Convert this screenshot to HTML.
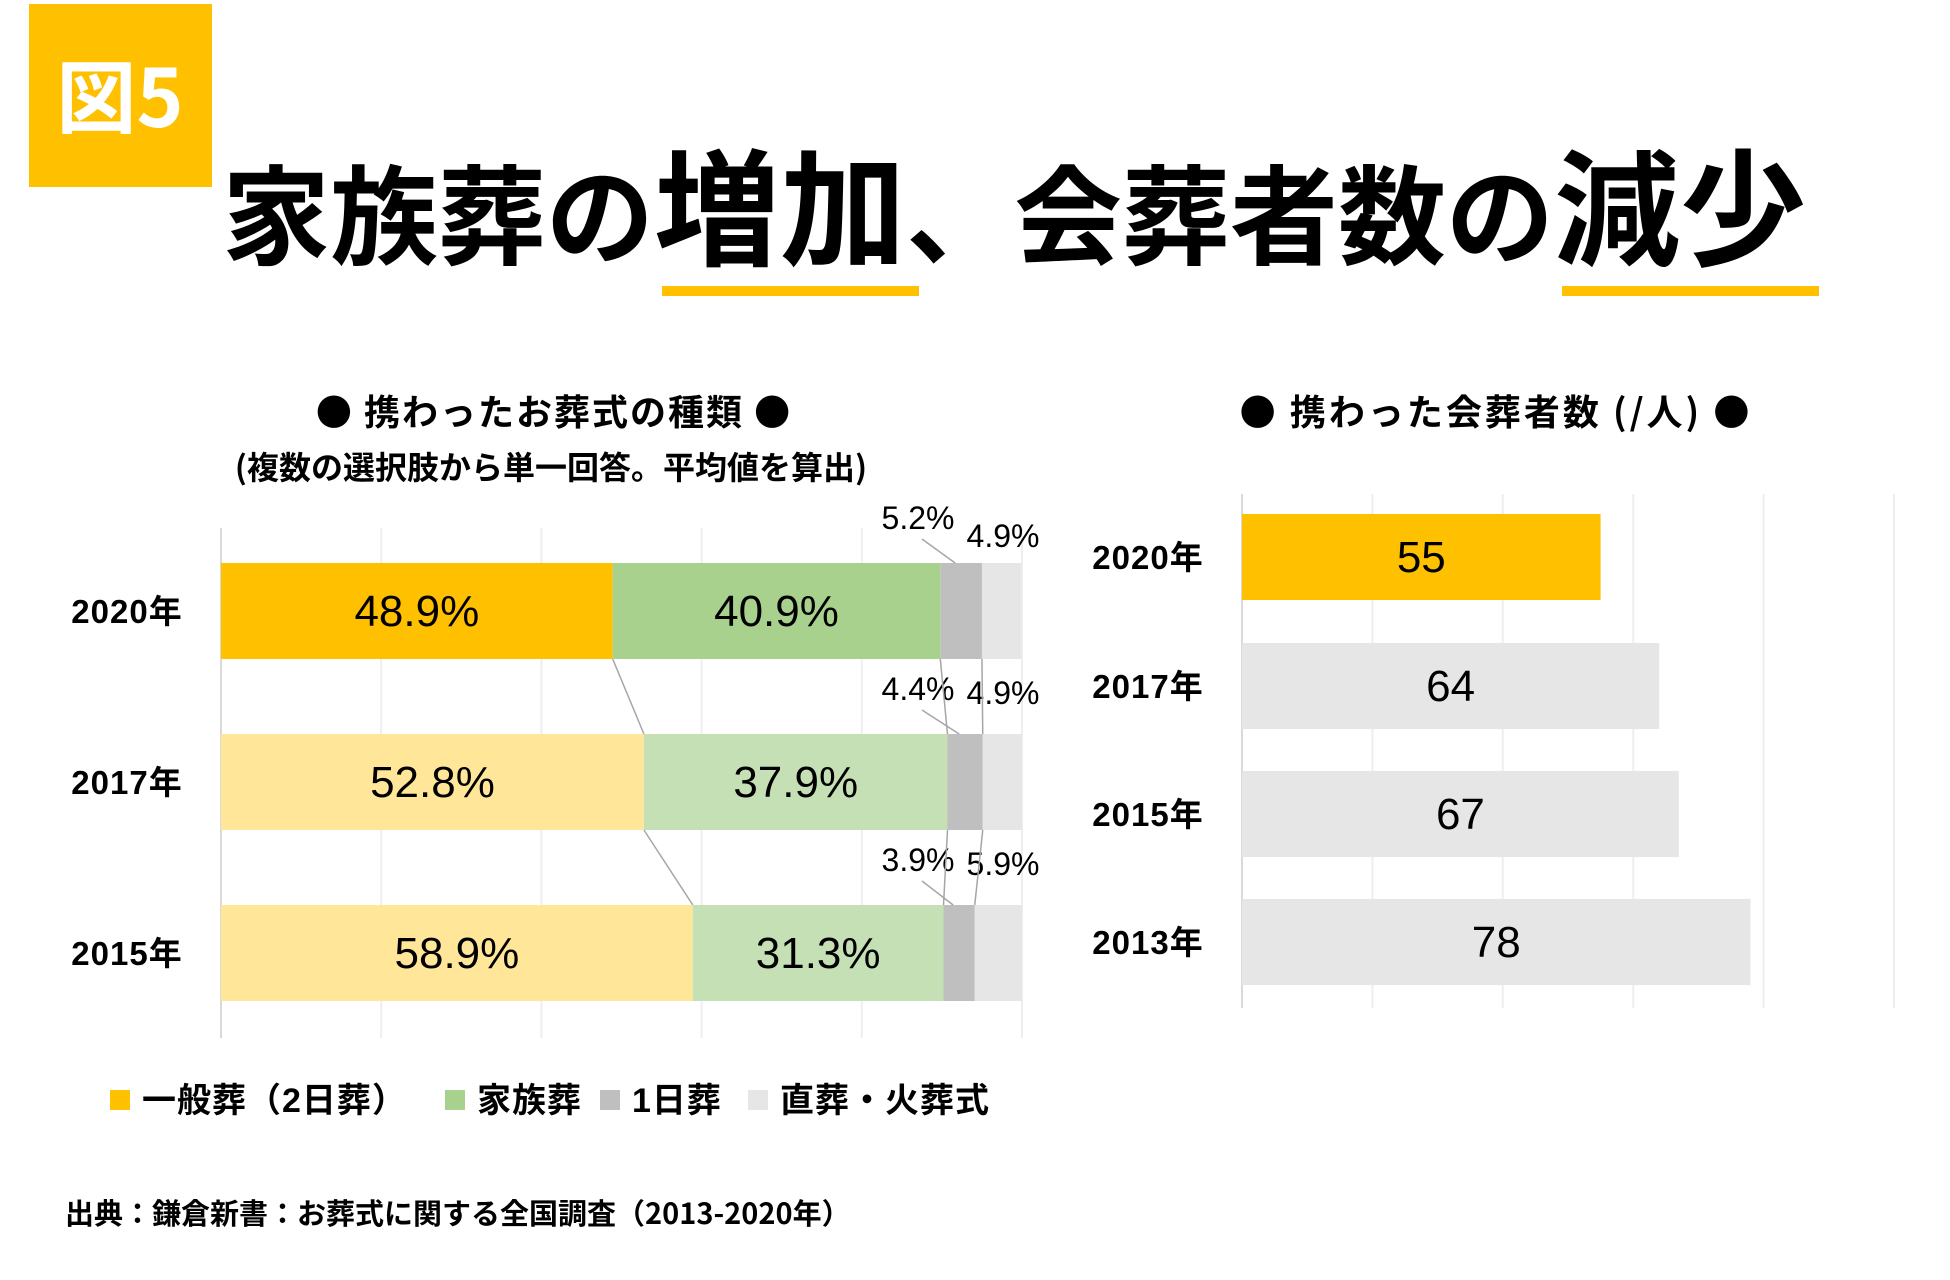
<!DOCTYPE html>
<html><head><meta charset="utf-8"><style>
body{margin:0;width:1950px;height:1280px;background:#fff;overflow:hidden;font-family:"Liberation Sans","Noto Sans CJK JP",sans-serif;}
svg{position:absolute;left:0;top:0}
</style></head><body>
<svg id="s" width="1950" height="1280">
<rect x="29" y="4" width="183" height="183" fill="#FFC000"/>
<text x="120" y="127" text-anchor="middle" font-size="80" font-weight="700" fill="#fff" font-family="Noto Sans CJK JP,sans-serif">図5</text>
<text x="222" y="256" font-family="Noto Sans CJK JP,sans-serif" font-weight="700" fill="#000"><tspan font-size="108">家族葬の</tspan><tspan font-size="126">増加</tspan><tspan font-size="108">、会葬者数の</tspan><tspan font-size="126">減少</tspan></text>
<rect x="662" y="286" width="257" height="10" fill="#FFC000"/>
<rect x="1562" y="286" width="257" height="10" fill="#FFC000"/>
<text x="554" y="425" text-anchor="middle" font-size="36" font-weight="700" letter-spacing="2" font-family="Noto Sans CJK JP,sans-serif">● 携わったお葬式の種類 ●</text>
<text x="551" y="479" text-anchor="middle" font-size="32" font-weight="700" font-family="Noto Sans CJK JP,sans-serif">(複数の選択肢から単一回答。平均値を算出)</text>
<text x="1496" y="425" text-anchor="middle" font-size="36" font-weight="700" letter-spacing="3" font-family="Noto Sans CJK JP,sans-serif">● 携わった会葬者数 (/人) ●</text>
<text x="65" y="1224" font-size="29" font-weight="700" font-family="Noto Sans CJK JP,sans-serif">出典：鎌倉新書：お葬式に関する全国調査（2013-2020年）</text>
<g id="left"></g><g id="right"></g><g id="legend"></g>
</svg>
<script>
const years=["2020年","2017年","2015年"];
const general=[48.9,52.8,58.9];
const family=[40.9,37.9,31.3];
const oneDay=[5.2,4.4,3.9];
const direct=[4.9,4.9,5.9];
const rYears=["2020年","2017年","2015年","2013年"];
const attendees=[55,64,67,78];
const NS="http://www.w3.org/2000/svg";
function mk(p,t,a){const e=document.createElementNS(NS,t);for(const k in a)e.setAttribute(k,a[k]);p.appendChild(e);return e;}
const L=document.getElementById('left');
const x0=221,x1=1022;const xs=v=>x0+(x1-x0)*v/100;
const barTop=[563,734,905],bh=96;
for(let i=0;i<=5;i++){const g=mk(L,'line',{x1:xs(i*20),x2:xs(i*20),y1:528,y2:1038,stroke:i==0?'#d9d9d9':'#eeeeee','stroke-width':2});
}
const series=[general,family,oneDay,direct];
const colsDark=['#FFC000','#A9D18E','#BFBFBF','#E7E6E6'];
const colsLight=['#FFE699','#C5E0B4','#BFBFBF','#E7E6E6'];
const names=['bar-general','bar-family','bar-one-day','bar-direct'];
for(let r=0;r<3;r++){
 let c=0;
 const t=mk(L,'text',{x:127,y:barTop[r]+bh/2+12,'text-anchor':'middle','font-size':33,'font-weight':700,'letter-spacing':1});t.textContent=years[r];
 
 for(let s=0;s<4;s++){
  const v=series[s][r];
  const rc=mk(L,'rect',{x:xs(c),y:barTop[r],width:xs(c+v)-xs(c),height:bh,fill:r==0?colsDark[s]:colsLight[s]});
  
  if(s<2){const tx=mk(L,'text',{x:(xs(c)+xs(c+v))/2,y:barTop[r]+bh/2+15,'text-anchor':'middle','font-size':44});tx.textContent=v.toFixed(1)+'%';
   }
  c+=v;
 }
 const g2=general[r]+family[r];
 const m1=xs(g2+oneDay[r]/2);
 const a=mk(L,'text',{x:918,y:barTop[r]-34,'text-anchor':'middle','font-size':32});a.textContent=oneDay[r].toFixed(1)+'%';
 
 const b=mk(L,'text',{x:1003,y:barTop[r]-(r==0?16:30),'text-anchor':'middle','font-size':32});b.textContent=direct[r].toFixed(1)+'%';
 
 const l1=mk(L,'line',{x1:922,y1:barTop[r]-24,x2:m1-6,y2:barTop[r],stroke:'#a6a6a6','stroke-width':1.5});
 
}
for(let r=0;r<2;r++){let c1=0,c2=0;
 for(let s=0;s<3;s++){c1+=series[s][r];c2+=series[s][r+1];
  const ln=mk(L,'line',{x1:xs(c1),y1:barTop[r]+bh,x2:xs(c2),y2:barTop[r+1],stroke:'#a6a6a6','stroke-width':1.5});
  }}
const R=document.getElementById('right');
const rx0=1242,rx1=1894;const rxs=v=>rx0+(rx1-rx0)*v/100;
const rTop=[514,643,771,899],rbh=86;
for(let i=0;i<=5;i++){const g=mk(R,'line',{x1:rxs(i*20),x2:rxs(i*20),y1:494,y2:1008,stroke:i==0?'#d9d9d9':'#eeeeee','stroke-width':2});
}
for(let r=0;r<4;r++){
 const rc=mk(R,'rect',{x:rx0,y:rTop[r],width:rxs(attendees[r])-rx0,height:rbh,fill:r==0?'#FFC000':'#E7E6E6'});
 
 const tx=mk(R,'text',{x:(rx0+rxs(attendees[r]))/2,y:rTop[r]+rbh/2+15,'text-anchor':'middle','font-size':44});tx.textContent=attendees[r];
 
 const yl=mk(R,'text',{x:1148,y:rTop[r]+rbh/2+12,'text-anchor':'middle','font-size':33,'font-weight':700,'letter-spacing':1});yl.textContent=rYears[r];
 
}
const G=document.getElementById('legend');
const legText=['一般葬（2日葬）','家族葬','1日葬','直葬・火葬式'];
const legX=[110,445,600,748];const legCol=['#FFC000','#A9D18E','#BFBFBF','#E7E6E6'];
for(let i=0;i<4;i++){
 const sq=mk(G,'rect',{x:legX[i],y:1090,width:20,height:20,fill:legCol[i]});
 
 const t=mk(G,'text',{x:legX[i]+32,y:1112,'font-size':34,'font-weight':700,'letter-spacing':1,'font-family':'Liberation Sans,Noto Sans CJK JP,sans-serif'});t.textContent=legText[i];
 
}
</script>
</body></html>
